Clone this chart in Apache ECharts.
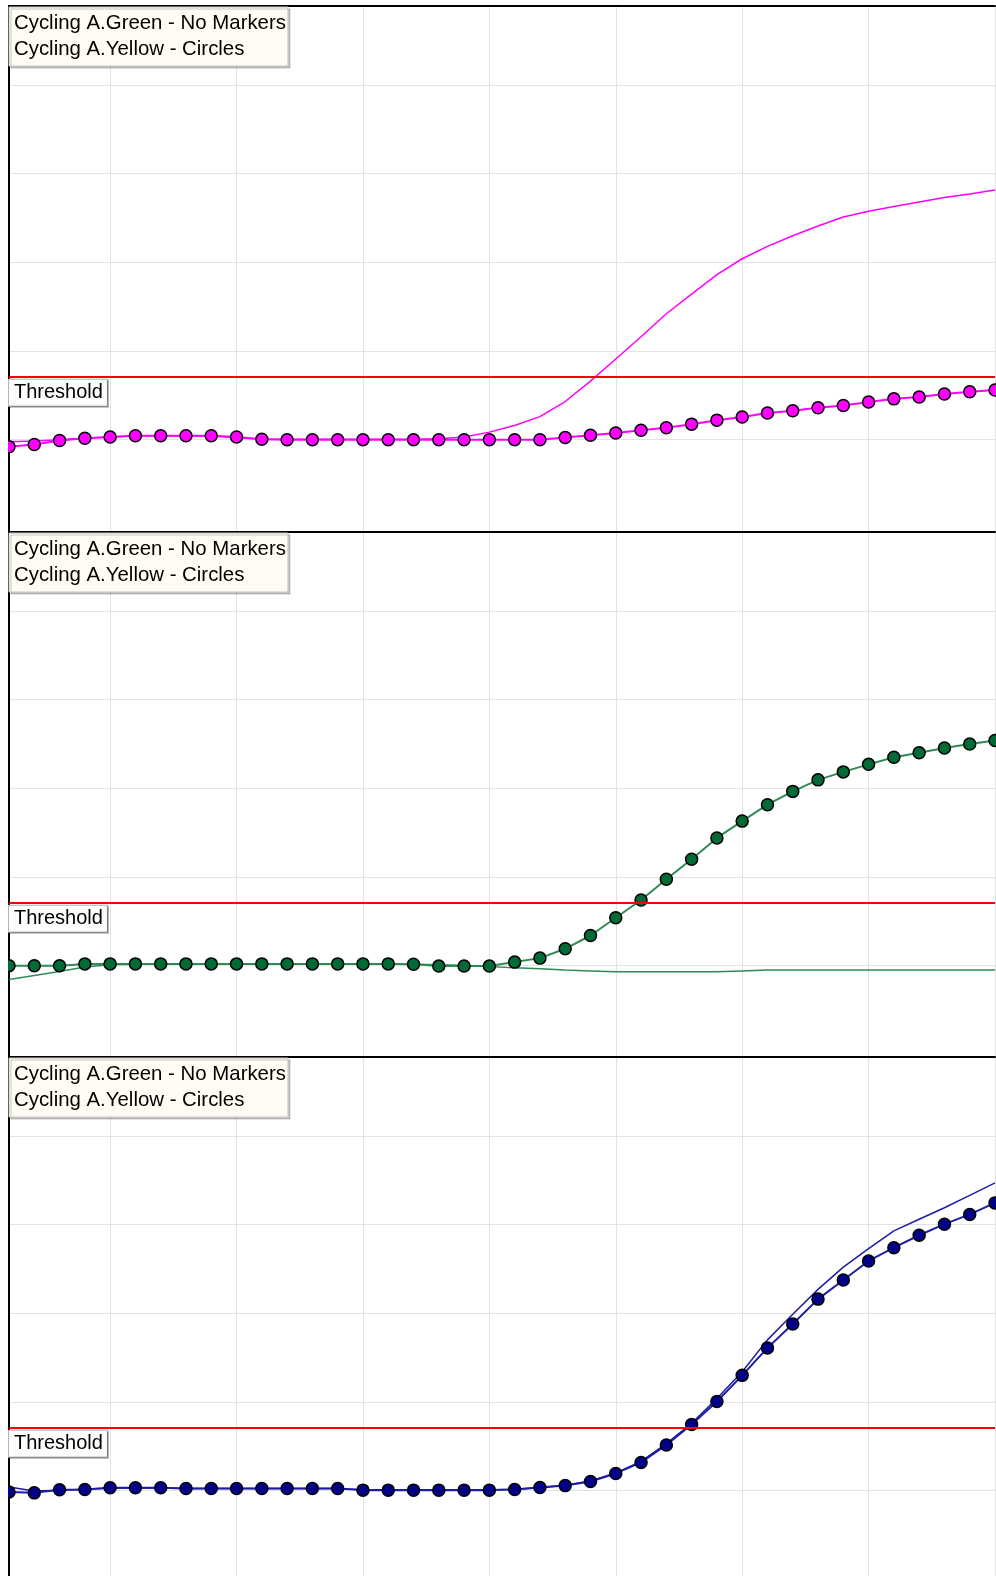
<!DOCTYPE html>
<html>
<head>
<meta charset="utf-8">
<title>Cycling A</title>
<script src="https://cdn.jsdelivr.net/npm/echarts@6/dist/echarts.min.js"></script>
<style>
  html, body { margin: 0; padding: 0; background: #fff; overflow: hidden; }
  #chart { position: absolute; left: 8px; top: 0; width: 988px; height: 1590px; }
</style>
</head>
<body>
<div id="chart"></div>
<script>
// cycle numbers on the x axis
const cycles = [1, 2, 3, 4, 5, 6, 7, 8, 9, 10, 11, 12, 13, 14, 15, 16, 17, 18, 19, 20,
  21, 22, 23, 24, 25, 26, 27, 28, 29, 30, 31, 32, 33, 34, 35, 36, 37, 38, 39, 40];
const xGridValues = [5, 10, 15, 20, 25, 30, 35, 40];
const yGridValues = [100, 200, 300, 400, 500];
const threshold = 171;

const greenName = 'Cycling A.Green';
const yellowName = 'Cycling A.Yellow';
const legendSuffix = { 'Cycling A.Green': ' - No Markers', 'Cycling A.Yellow': ' - Circles' };

// panel 1 (magenta)
const green1 = [97.5, 98.5, 100, 101.5, 103, 104.5, 104.5, 104.5, 104, 102.5,
  100.5, 100.5, 100.5, 100.5, 100.5, 100.5, 100.5, 101, 103, 108.5,
  116, 126, 143, 166, 191, 216, 242, 264, 286, 304,
  318, 330, 341, 351, 357.5, 363, 368, 373, 377, 381.5];
const yellow1 = [92, 94.5, 99, 101.5, 103, 104.5, 104.5, 104.5, 104.5, 103,
  100.5, 100, 100, 100, 100, 100, 100, 100, 100, 100,
  100, 100, 102.5, 105, 107.5, 110.5, 113.5, 117.5, 122, 125.5,
  130, 132.5, 136, 138.5, 142.5, 146, 148, 151.5, 154, 156];

// panel 2 (green)
const green2 = [84.5, 89, 93.5, 98.5, 101, 101.5, 101.5, 101.5, 101.5, 101.5,
  101.5, 101.5, 101.5, 101.5, 101.5, 101.5, 101.5, 101, 100.5, 99,
  97.5, 96.5, 95, 94, 93, 93, 93, 93, 93, 94,
  95, 95, 95, 95, 95, 95, 95, 95, 95, 95];
const yellow2 = [100, 100, 100, 102, 102, 102, 102, 102, 102, 102,
  102, 102, 102, 102, 102, 102, 101.5, 99.5, 99.5, 99.5,
  104, 108.5, 119, 134, 154, 174, 197.5, 220, 244, 263,
  281.5, 296.5, 309.5, 318.5, 327, 335, 340, 345.5, 350, 354];

// panel 3 (navy)
const green3 = [104, 99.5, 100.5, 101.5, 103, 103, 103, 102.5, 102.5, 102.5,
  102.5, 102.5, 102.5, 102.5, 101, 101, 101, 101, 101, 101,
  101.5, 103.5, 106, 111, 120, 133, 153, 176, 204, 234,
  270, 299, 327, 352, 373, 393, 406, 419, 433, 447];
const yellow3 = [98.6, 97.5, 101, 101.4, 103.2, 103.2, 103.2, 102.5, 102.5, 102.5,
  102.5, 102.5, 102.5, 102.5, 100.6, 100.6, 100.6, 100.6, 100.6, 100.6,
  101.2, 103.5, 105.7, 110.3, 119.4, 131.8, 151.5, 174.5, 200.5, 230,
  261, 288, 316, 337.5, 359, 374, 388, 400.5, 411.5, 424.5];

const greens = [green1, green2, green3];
const yellows = [yellow1, yellow2, yellow3];
const lineColors = ['#ff00ff', '#2e8b57', '#1c1ca6'];
const markerColors = ['#ff00ff', '#006b35', '#000088'];
const panelTops = [6, 532, 1057];
const panelHeight = 525;

const font = 'Liberation Sans, Arial, sans-serif';
const pairs = arr => cycles.map((c, i) => [c, arr[i]]);

const grid = [], xAxis = [], yAxis = [], series = [], legend = [];

panelTops.forEach((top, p) => {
  grid.push({ left: 1, width: 986, top: top, height: panelHeight, show: false });
  xAxis.push({
    type: 'value', gridIndex: p, min: 1, max: 40, position: 'top',
    axisLine: { show: true, onZero: false, lineStyle: { color: '#000', width: 2 } },
    axisTick: { show: false, customValues: xGridValues },
    axisLabel: { show: false },
    splitLine: { show: true, lineStyle: { color: '#e3e3e3', width: 1 } },
    z: 3
  });
  yAxis.push({
    type: 'value', gridIndex: p, min: -3, max: 589,
    axisLine: { show: true, onZero: false, lineStyle: { color: '#000', width: 2 } },
    axisTick: { show: false, customValues: yGridValues },
    axisLabel: { show: false },
    splitLine: { show: true, lineStyle: { color: '#e3e3e3', width: 1 } },
    z: 3
  });
  legend.push({
    left: 1, top: top + 1, orient: 'vertical',
    icon: 'none', itemWidth: 0, itemHeight: 26, itemGap: 0,
    padding: [3, 2, 4, 0],
    backgroundColor: '#fffdf3', borderColor: '#c4c4c4', borderWidth: 1,
    shadowColor: 'rgba(0,0,0,0.22)', shadowOffsetX: 2, shadowOffsetY: 2, shadowBlur: 0,
    selectedMode: false,
    textStyle: { color: '#000', fontSize: 20.4, fontFamily: font, lineHeight: 26 },
    formatter: name => name + legendSuffix[name],
    data: [greenName, yellowName]
  });
  series.push({
    name: greenName, type: 'line', xAxisIndex: p, yAxisIndex: p,
    data: pairs(greens[p]), symbol: 'none', showSymbol: false,
    lineStyle: { color: lineColors[p], width: 1.5 },
    itemStyle: { color: lineColors[p] },
    emphasis: { disabled: true },
    markLine: {
      silent: true, symbol: 'none',
      lineStyle: { color: '#ff0000', width: 1.8, type: 'solid' },
      label: {
        show: true, position: 'insideStartBottom', formatter: 'Threshold',
        color: '#000', fontSize: 20, fontFamily: font, lineHeight: 20,
        backgroundColor: '#fdfdfd', borderColor: '#b4b4b4', borderWidth: 1,
        padding: [3, 4, 3, 5], distance: [0, 3],
        shadowColor: 'rgba(0,0,0,0.3)', shadowOffsetX: 1, shadowOffsetY: 1
      },
      emphasis: { disabled: true },
      data: [{ yAxis: threshold }]
    }
  });
  series.push({
    name: yellowName, type: 'line', xAxisIndex: p, yAxisIndex: p,
    data: pairs(yellows[p]), symbol: 'circle', symbolSize: 12,
    lineStyle: { color: lineColors[p], width: 2 },
    itemStyle: { color: markerColors[p], borderColor: '#000', borderWidth: 1.5 },
    emphasis: { disabled: true }
  });
});

const myChart = echarts.init(document.getElementById('chart'));
myChart.setOption({
  animation: false,
  grid: grid,
  xAxis: xAxis,
  yAxis: yAxis,
  legend: legend,
  series: series
});
</script>
</body>
</html>
